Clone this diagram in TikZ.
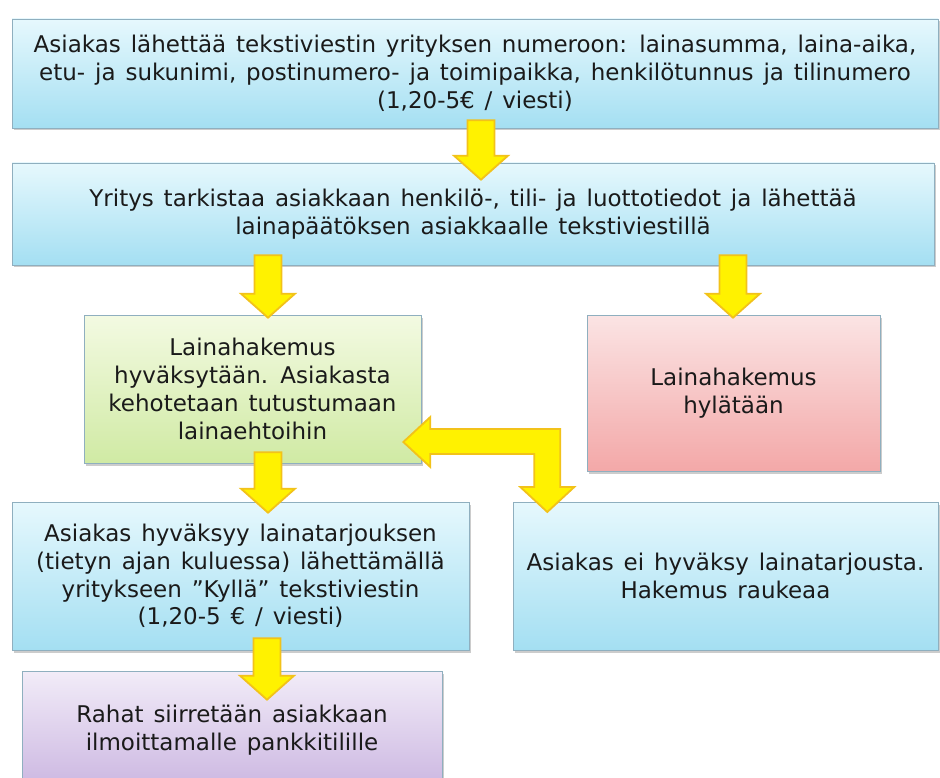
\documentclass[tikz,border=0pt]{standalone}
\usepackage{fontspec}
\setmainfont[WordSpace=1.35]{DejaVu Sans}
\usepackage{tikz}
\usetikzlibrary{calc,shadows}
\usepackage{xcolor}
\definecolor{blueTop}{HTML}{E6F8FD}
\definecolor{blueBot}{HTML}{A4DFF2}
\definecolor{greenTop}{HTML}{F3FAE2}
\definecolor{greenBot}{HTML}{D0EAA4}
\definecolor{redTop}{HTML}{FBE4E4}
\definecolor{redBot}{HTML}{F3A8A8}
\definecolor{purpleTop}{HTML}{F2ECF8}
\definecolor{purpleBot}{HTML}{CBB6E1}
\definecolor{boxline}{HTML}{8FAFBF}
\definecolor{textcol}{HTML}{1A1A1A}
\definecolor{arrowfill}{HTML}{FFF200}
\definecolor{arrowline}{HTML}{F2C21A}

% yellow block arrow pointing down: #1 top of the shaft, #2 tip
\newcommand{\yellowdown}[2]{%
  \draw[yarrow] let \p1=#1, \p2=#2 in
    (\x1-13.5pt,\y1) -- (\x1+13.5pt,\y1) -- (\x1+13.5pt,\y2+24pt)
    -- (\x1+27pt,\y2+24pt) -- (\x1,\y2) -- (\x1-27pt,\y2+24pt)
    -- (\x1-13.5pt,\y2+24pt) -- cycle;}

\begin{document}
\begin{tikzpicture}[x=1pt,y=-1pt,
  box/.style={draw=boxline, line width=0.6pt, align=center, inner sep=0pt,
    text=textcol, font=\fontsize{23}{27.8}\selectfont,
    drop shadow={shadow xshift=1.5pt,shadow yshift=-2.5pt,opacity=0.4}},
  bluebox/.style={box, top color=blueTop, bottom color=blueBot},
  greenbox/.style={box, top color=greenTop, bottom color=greenBot},
  redbox/.style={box, top color=redTop, bottom color=redBot},
  purplebox/.style={box, top color=purpleTop, bottom color=purpleBot},
  yarrow/.style={draw=arrowline, line width=1.8pt, fill=arrowfill, line join=miter}]
  \useasboundingbox (0,0) rectangle (940,778);
  \clip (0,0) rectangle (940,778);

  \node[bluebox, minimum width=926pt, minimum height=109pt] (ask) at (475,73.5)
    {Asiakas lähettää tekstiviestin yrityksen numeroon: lainasumma, laina-aika,\\
     etu- ja sukunimi, postinumero- ja toimipaikka, henkilötunnus ja tilinumero\\
     (1,20-5€ / viesti)};
  \node[bluebox, minimum width=922pt, minimum height=102pt] (check) at (473,214)
    {Yritys tarkistaa asiakkaan henkilö-, tili- ja luottotiedot ja lähettää\\
     lainapäätöksen asiakkaalle tekstiviestillä};
  \node[greenbox, minimum width=337pt, minimum height=148pt] (ok) at (252.5,389)
    {Lainahakemus\\ hyväksytään. Asiakasta\\ kehotetaan tutustumaan\\ lainaehtoihin};
  \node[redbox, minimum width=293pt, minimum height=156pt] (rej) at (733.5,393)
    {Lainahakemus\\ hylätään};
  \node[bluebox, minimum width=457pt, minimum height=148pt] (accept) at (240.5,576)
    {Asiakas hyväksyy lainatarjouksen\\ (tietyn ajan kuluessa) lähettämällä\\
     yritykseen ”Kyllä” tekstiviestin\\ (1,20-5 € / viesti)};
  \node[bluebox, minimum width=425pt, minimum height=148pt] (decline) at (725.5,576)
    {Asiakas ei hyväksy lainatarjousta.\\ Hakemus raukeaa};
  \node[purplebox, minimum width=420pt, minimum height=119pt] (pay) at (232,730.5)
    {Rahat siirretään asiakkaan\\ ilmoittamalle pankkitilille};

  \yellowdown{($(ask.south)+(6,-8)$)}{($(check.north)+(0,17)$)}
  \yellowdown{($(check.south)+(-205,-10)$)}{($(ok.north)+(0,3)$)}
  \yellowdown{($(check.south)+(260,-10)$)}{($(rej.north)+(0,3)$)}
  \yellowdown{($(ok.south)+(15.5,-11)$)}{($(accept.north)+(0,11)$)}
  \yellowdown{($(accept.south)+(26.5,-12)$)}{($(pay.north)+(0,29)$)}

  \draw[yarrow] ($(ok.east)+(-18,53)$) -- ++(27,-25) -- ++(0,12) -- ++(130,0)
    -- ++(0,58) -- ++(14,0) -- ++(-27,25) -- ++(-27,-25) -- ++(14,0)
    -- ++(0,-33) -- ++(-104,0) -- ++(0,13) -- cycle;
\end{tikzpicture}
\end{document}
